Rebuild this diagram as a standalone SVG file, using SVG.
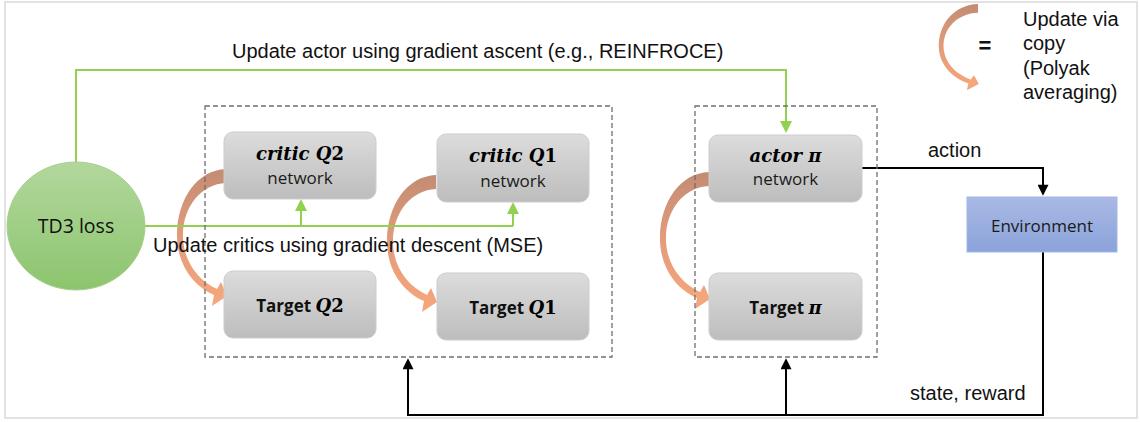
<svg xmlns="http://www.w3.org/2000/svg" width="1140" height="422" viewBox="0 0 1140 422">
<style>
.lbl{font-family:"Liberation Sans",Arial,sans-serif;font-size:20px;fill:#111}
.nt{font-family:"Open Sans","Noto Sans",sans-serif;font-size:17px;fill:#1a1a1a}
.ntb{font-family:"Open Sans","Noto Sans",sans-serif;font-size:17px;font-weight:bold;fill:#111}
.mi{font-family:"DejaVu Serif",serif;font-size:18px;font-weight:bold;font-style:italic}
.mu{font-family:"DejaVu Serif",serif;font-size:18px;font-weight:bold;font-style:normal}
.box{fill:url(#gGray);stroke:#cdcdcd;stroke-width:1}
.dash{fill:none;stroke:#6f6f6f;stroke-width:1.3;stroke-dasharray:5 3}
.gl{fill:none;stroke:#92d050;stroke-width:2}
.bl{fill:none;stroke:#000;stroke-width:2}
</style>
<defs>
<linearGradient id="gGray" x1="0" y1="0" x2="0" y2="1"><stop offset="0" stop-color="#dcdcdc"/><stop offset="1" stop-color="#bdbdbd"/></linearGradient>
<linearGradient id="gGreen" x1="0" y1="0" x2="0" y2="1"><stop offset="0" stop-color="#b3d79d"/><stop offset="1" stop-color="#8cc56e"/></linearGradient>
<linearGradient id="gBlue" x1="0" y1="0" x2="0" y2="1"><stop offset="0" stop-color="#aab9e5"/><stop offset="1" stop-color="#8aa3da"/></linearGradient>
<linearGradient id="gOrange" x1="0" y1="0" x2="0" y2="1"><stop offset="0" stop-color="#c38c74"/><stop offset="0.5" stop-color="#e39c7b"/><stop offset="1" stop-color="#f7a77c"/></linearGradient>
<path id="copyArrow" fill="url(#gOrange)" d="M0,0 C-29,1 -50,31 -49,69 C-48,96 -33,117 -12,126 L-14,137 L1,127 L-5,113 L-9,120 C-28,111 -42,93 -43,69 C-44,38 -25,15 0,14 Z"/>
<marker id="mGreen" viewBox="0 0 12 12" refX="10" refY="6" markerWidth="12" markerHeight="12" markerUnits="userSpaceOnUse" orient="auto"><path d="M0,0 L12,6 L0,12 Z" fill="#92d050"/></marker>
<marker id="mBlack" viewBox="0 0 12 12" refX="10" refY="6" markerWidth="12" markerHeight="11" markerUnits="userSpaceOnUse" orient="auto"><path d="M0,0 L12,6 L0,12 Z" fill="#000"/></marker>
</defs>
<rect x="5" y="2" width="1132" height="416" fill="#fff" stroke="#d9d9d9" stroke-width="1.5"/>
<g id="connectors">
<use href="#copyArrow" transform="translate(226,169)"/>
<use href="#copyArrow" transform="translate(436,175)"/>
<use href="#copyArrow" transform="translate(709,172)"/>
<path class="gl" d="M76,162 V70 H786 V131" marker-end="url(#mGreen)"/>
<path class="gl" d="M144,226 H513"/>
<path class="gl" d="M301,226 V201" marker-end="url(#mGreen)"/>
<path class="gl" d="M513,226 V204" marker-end="url(#mGreen)"/>
<path class="bl" d="M862,168 H1043 V194" marker-end="url(#mBlack)"/>
<path class="bl" d="M1043,252 V415 H408 V360" marker-end="url(#mBlack)"/>
<path class="bl" d="M786,415 V360" marker-end="url(#mBlack)"/>
</g>
<g id="critic-group"><rect class="dash" x="205" y="106" width="407" height="251"/></g>
<g id="actor-group"><rect class="dash" x="695" y="106" width="182" height="251"/></g>
<g id="td3-loss">
<ellipse cx="76" cy="226" rx="69" ry="64" fill="url(#gGreen)" stroke="#a8d08d" stroke-width="1"/>
<text x="76" y="233" text-anchor="middle" style="font-family:'Open Sans','Noto Sans',sans-serif;font-size:19.5px;fill:#111">TD3 loss</text>
</g>
<g id="critic-q2">
<rect class="box" x="224" y="132" width="152" height="67" rx="9"/>
<text x="300" y="160" text-anchor="middle"><tspan class="mi">critic Q</tspan><tspan class="mu">2</tspan></text>
<text class="nt" x="300" y="184" text-anchor="middle">network</text>
</g>
<g id="critic-q1">
<rect class="box" x="437" y="134" width="152" height="68" rx="9"/>
<text x="513" y="162" text-anchor="middle"><tspan class="mi">critic Q</tspan><tspan class="mu">1</tspan></text>
<text class="nt" x="513" y="187" text-anchor="middle">network</text>
</g>
<g id="actor">
<rect class="box" x="709" y="135" width="153" height="67" rx="9"/>
<text x="785.5" y="162" text-anchor="middle"><tspan class="mi">actor π</tspan></text>
<text class="nt" x="785.5" y="185" text-anchor="middle">network</text>
</g>
<g id="target-q2">
<rect class="box" x="224" y="271" width="152" height="67" rx="9"/>
<text x="300" y="312" text-anchor="middle"><tspan class="ntb">Target </tspan><tspan class="mi">Q</tspan><tspan class="mu">2</tspan></text>
</g>
<g id="target-q1">
<rect class="box" x="437" y="273" width="152" height="67" rx="9"/>
<text x="513" y="314" text-anchor="middle"><tspan class="ntb">Target </tspan><tspan class="mi">Q</tspan><tspan class="mu">1</tspan></text>
</g>
<g id="target-pi">
<rect class="box" x="709" y="273" width="153" height="67" rx="9"/>
<text x="785.5" y="314" text-anchor="middle"><tspan class="ntb">Target </tspan><tspan class="mi">π</tspan></text>
</g>
<g id="environment">
<rect x="967" y="197" width="150" height="55" fill="url(#gBlue)" stroke="#a3b6ea" stroke-width="1"/>
<text class="nt" x="1042" y="232" text-anchor="middle">Environment</text>
</g>
<g id="labels">
<text class="lbl" x="232" y="58">Update actor using gradient ascent (e.g., REINFROCE)</text>
<text class="lbl" x="153" y="252">Update critics using gradient descent (MSE)</text>
<text class="lbl" x="928" y="157">action</text>
<text class="lbl" x="910" y="400">state, reward</text>
</g>
<g id="legend">
<use href="#copyArrow" transform="translate(978,4) scale(0.8,0.63)"/>
<text x="985" y="53" text-anchor="middle" style="font-family:'Liberation Sans',Arial,sans-serif;font-size:22px;font-weight:bold;fill:#111">=</text>
<text class="lbl" x="1023" y="26">Update via</text>
<text class="lbl" x="1023" y="50">copy</text>
<text class="lbl" x="1023" y="75">(Polyak</text>
<text class="lbl" x="1023" y="99">averaging)</text>
</g>
</svg>
